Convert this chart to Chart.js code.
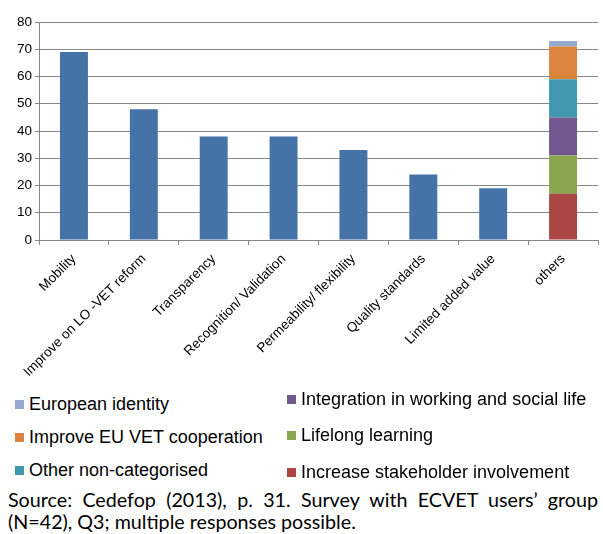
<!DOCTYPE html>
<html>
<head>
<meta charset="utf-8">
<script src="https://cdn.jsdelivr.net/npm/chart.js@4.4.1/dist/chart.umd.min.js"></script>
<style>
  html, body { margin: 0; padding: 0; background: #fff; }
  #wrap { position: relative; width: 603px; height: 534px; overflow: hidden; font-family: "Liberation Sans", Arial, sans-serif; }
  #chartBox { position: absolute; left: 0; top: 0; width: 603px; height: 390px; }
  .leg { position: absolute; font-size: 18px; color: #000; white-space: nowrap; line-height: 20px; }
  .leg .sq { display: inline-block; width: 9px; height: 9px; margin-right: 5px; vertical-align: 1px; }
  .src { position: absolute; left: 8px; width: 590px; font-family: "Lato", "Open Sans", sans-serif; font-size: 19.7px; color: #000; line-height: 22px; white-space: nowrap; }
  #src1 { text-align: justify; text-align-last: justify; top: 489px; }
  #src2 { top: 511px; }
</style>
</head>
<body>
<div id="wrap">
  <div id="chartBox"><canvas id="c" width="603" height="390"></canvas></div>
  <div id="legend"></div>
  <div class="src" id="src1">Source: Cedefop (2013), p. 31. Survey with ECVET users’ group</div>
  <div class="src" id="src2">(N=42), Q3; multiple responses possible.</div>
</div>
<script>
// ---- data ----
const categories = ["Mobility", "Improve on LO -VET reform", "Transparency", "Recognition/ Validation",
  "Permeability/ flexibility", "Quality standards", "Limited added value", "others"];
const mainValues = [69, 48, 38, 38, 33, 24, 19, null];

// "others" stack, bottom to top
const otherLabels = ["Increase stakeholder involvement", "Lifelong learning", "Integration in working and social life",
  "Other non-categorised", "Improve EU VET cooperation", "European identity"];
const otherValues = [17, 14, 14, 14, 12, 2];
const otherColors = ["#AA4643", "#89A54E", "#71588F", "#4198AF", "#DB843D", "#93A9CF"];
const mainColor = "#4572A7";

const yTicks = [0, 10, 20, 30, 40, 50, 60, 70, 80];

// ---- datasets ----
const datasets = [{
  label: "main",
  data: mainValues,
  backgroundColor: mainColor,
  borderWidth: 0
}];
otherLabels.forEach((lab, i) => {
  datasets.push({
    label: lab,
    data: categories.map((c, j) => j === categories.length - 1 ? otherValues[i] : null),
    backgroundColor: otherColors[i],
    borderWidth: 0
  });
});

const gridColor = "#878787";
new Chart(document.getElementById("c"), {
  type: "bar",
  data: { labels: categories, datasets },
  options: {
    responsive: false,
    animation: false,
    devicePixelRatio: 1,
    layout: { padding: { left: 0, right: 5, top: 22, bottom: 0 } },
    plugins: { legend: { display: false }, tooltip: { enabled: false } },
    datasets: { bar: { barPercentage: 0.4, categoryPercentage: 1.0 } },
    scales: {
      x: {
        stacked: true,
        grid: { display: true, drawOnChartArea: false, drawTicks: true, tickLength: 5, color: gridColor, offset: true },
        border: { display: true, color: gridColor },
        ticks: { minRotation: 45, maxRotation: 45, autoSkip: false, padding: 6, labelOffset: 0, color: "#000",
                 font: { family: "Liberation Sans", size: 13.5 } },
        afterFit: (s) => { s.height = 150; }
      },
      y: {
        stacked: true,
        min: 0, max: 80,
        afterBuildTicks: (s) => { s.ticks = yTicks.map(v => ({ value: v })); },
        grid: { color: gridColor, tickLength: 4, drawTicks: true },
        border: { display: true, color: gridColor },
        ticks: { padding: 3, color: "#000", font: { family: "Liberation Sans", size: 13.5 } },
        afterFit: (s) => { s.width = 39; }
      }
    }
  }
});

// ---- HTML legend (reverse stack order, column-major, 3 rows) ----
const legPos = [
  { left: 15, top: 394 }, { left: 15, top: 427 }, { left: 15, top: 460 },
  { left: 287, top: 389 }, { left: 287, top: 425 }, { left: 287, top: 462 }
];
const legendEl = document.getElementById("legend");
otherLabels.slice().reverse().forEach((lab, k) => {
  const idx = otherLabels.length - 1 - k;
  const d = document.createElement("div");
  d.className = "leg";
  d.style.left = legPos[k].left + "px";
  d.style.top = legPos[k].top + "px";
  const sq = document.createElement("span");
  sq.className = "sq";
  sq.style.background = otherColors[idx];
  d.appendChild(sq);
  d.appendChild(document.createTextNode(lab));
  legendEl.appendChild(d);
});
</script>
</body>
</html>
